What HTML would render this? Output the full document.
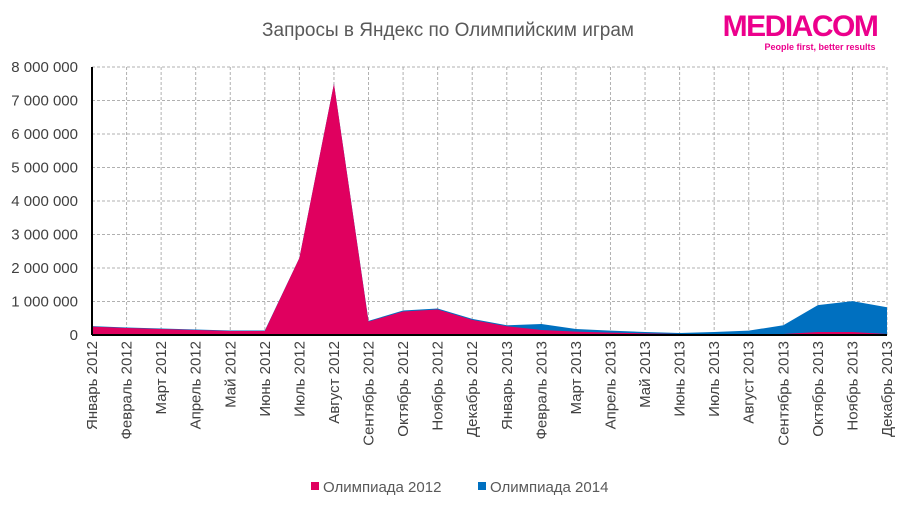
<!DOCTYPE html>
<html><head><meta charset="utf-8"><style>
body{margin:0;background:#fff;font-family:"Liberation Sans",sans-serif}
</style></head><body>
<svg width="900" height="525" xmlns="http://www.w3.org/2000/svg" style="font-family:'Liberation Sans',sans-serif">
<text x="448" y="36" text-anchor="middle" font-size="19" fill="#595959">Запросы в Яндекс по Олимпийским играм</text>
<g>
<text x="800" y="36" text-anchor="middle" font-size="30" font-weight="bold" fill="#ec008c" letter-spacing="-1.5">MEDIACOM</text>
<text x="820" y="50" text-anchor="middle" font-size="9" font-weight="bold" fill="#ec008c">People first, better results</text>
</g>
<g id="grid"></g><g id="areas"></g><g id="axes"></g>
<g>
<rect x="311" y="482" width="8" height="8" fill="#e0005f"/>
<text x="323" y="492" font-size="15" fill="#595959">Олимпиада 2012</text>
<rect x="478" y="482" width="8" height="8" fill="#0070c0"/>
<text x="490" y="492" font-size="15" fill="#595959">Олимпиада 2014</text>
</g>
</svg>
<script>
const categories=["Январь 2012","Февраль 2012","Март 2012","Апрель 2012","Май 2012","Июнь 2012","Июль 2012","Август 2012","Сентябрь 2012","Октябрь 2012","Ноябрь 2012","Декабрь 2012","Январь 2013","Февраль 2013","Март 2013","Апрель 2013","Май 2013","Июнь 2013","Июль 2013","Август 2013","Сентябрь 2013","Октябрь 2013","Ноябрь 2013","Декабрь 2013"];
const olymp2012=[250000,210000,180000,150000,120000,120000,2300000,7500000,400000,700000,760000,450000,260000,150000,100000,70000,50000,30000,20000,20000,30000,90000,90000,30000];
const olymp2014=[265000,225000,195000,165000,135000,135000,2300000,7500000,420000,730000,790000,480000,290000,330000,180000,130000,90000,60000,90000,130000,290000,890000,1010000,830000];
const yTicks=[0,1000000,2000000,3000000,4000000,5000000,6000000,7000000,8000000];
const yTickLabels=["0","1 000 000","2 000 000","3 000 000","4 000 000","5 000 000","6 000 000","7 000 000","8 000 000"];
const NS="http://www.w3.org/2000/svg";
const X0=92,X1=887,Y0=335,Y1=67,YMAX=8000000;
const xs=i=>X0+i*(X1-X0)/(categories.length-1);
const ys=v=>Y0-v/YMAX*(Y0-Y1);
function mk(t,a,p){const e=document.createElementNS(NS,t);for(const k in a)e.setAttribute(k,a[k]);p.appendChild(e);return e;}
const grid=document.getElementById('grid'),areas=document.getElementById('areas'),axes=document.getElementById('axes');
yTicks.forEach((v,i)=>{
 if(v>0){const l=mk('line',{x1:X0,x2:X1,y1:ys(v),y2:ys(v),stroke:'#b0b0b0','stroke-dasharray':'3,2'},grid);
 
 }
 const t=mk('text',{x:78,y:ys(v)+5,'text-anchor':'end','font-size':15,fill:'#404040'},axes);
 t.textContent=yTickLabels[i];
 
 
});
categories.forEach((c,i)=>{
 if(i>0){const l=mk('line',{x1:xs(i),x2:xs(i),y1:Y1,y2:Y0,stroke:'#b0b0b0','stroke-dasharray':'3,2'},grid);
 
 }
 const x=xs(i)+5;
 const t=mk('text',{x:x,y:341,'text-anchor':'end','font-size':15,fill:'#404040',transform:`rotate(-90 ${x} 341)`},axes);
 t.textContent=c;
 
 
});
function area(vals,color,name){
 let d=`M${X0},${Y0}`;vals.forEach((v,i)=>d+=` L${xs(i)},${ys(v)}`);d+=` L${X1},${Y0} Z`;
 const p=mk('path',{d:d,fill:color},areas);
 
 
}
area(olymp2014,'#0070c0','area-olympiad-2014');
area(olymp2012,'#e0005f','area-olympiad-2012');
const ax=mk('line',{x1:X0,x2:X0,y1:Y1,y2:Y0,stroke:'#000','stroke-width':2},axes);


const bx=mk('line',{x1:X0,x2:X1,y1:Y0,y2:Y0,stroke:'#000','stroke-width':2},axes);


</script>
</body></html>
